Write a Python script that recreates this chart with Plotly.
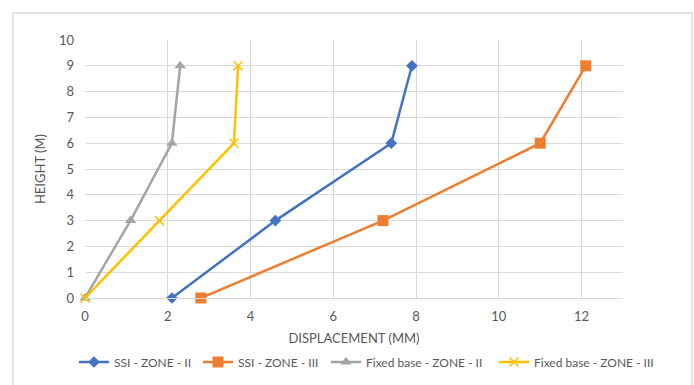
import plotly.graph_objects as go

# Storey heights (m) and lateral displacements (mm) for each case
heights = [0, 3, 6, 9]
ssi_zone2 = [2.1, 4.6, 7.4, 7.9]
ssi_zone3 = [2.8, 7.2, 11.0, 12.1]
fixed_zone2 = [0.0, 1.1, 2.1, 2.3]
fixed_zone3 = [0.0, 1.8, 3.6, 3.7]

series_names = ["SSI - ZONE - II", "SSI - ZONE - III",
                "Fixed base - ZONE - II", "Fixed base - ZONE - III"]
x_ticks = [0, 2, 4, 6, 8, 10, 12]
y_ticks = list(range(0, 11))

W, H = 694, 385
L, R, T, B = 85, 71, 40, 87

fig = go.Figure()

styles = [
    (ssi_zone2, "#4472C4", dict(symbol="diamond", size=9)),
    (ssi_zone3, "#ED7D31", dict(symbol="square", size=11)),
    (fixed_zone2, "#A5A5A5", dict(symbol="triangle-up", size=10)),
    (fixed_zone3, "#FFC000", dict(symbol="x-thin", size=9,
                                  line=dict(color="#FFC000", width=1.5))),
]
font_family = "Lato, 'Liberation Sans', sans-serif"
grey_text = "#595959"

# one single-entry legend per series so the row sits on one line
legend_text_x = [115, 239, 367, 535]
legend_ids = ["legend", "legend2", "legend3", "legend4"]
legend_layouts = {}
for name, (xs, col, mk), lid, tx in zip(series_names, styles, legend_ids, legend_text_x):
    fig.add_trace(go.Scatter(
        x=xs, y=heights, name=name, mode="lines+markers",
        line=dict(color=col, width=2.5),
        marker=dict(color=col, **mk),
        cliponaxis=False, legend=lid,
    ))
    legend_layouts[lid] = dict(
        orientation="h", xref="container", yref="container",
        x=(tx - 41) / W, xanchor="left",
        y=1 - 362 / H, yanchor="middle",
        font=dict(size=12, color=grey_text),
        itemwidth=30, bgcolor="rgba(0,0,0,0)",
    )

fig.update_layout(
    width=W, height=H,
    margin=dict(l=L, r=R, t=T, b=B, autoexpand=False),
    paper_bgcolor="white", plot_bgcolor="white",
    font=dict(family=font_family, size=13, color=grey_text),
    showlegend=True,
    **legend_layouts,
)
fig.update_xaxes(
    range=[0, 13], tickvals=x_ticks, showgrid=True, gridcolor="#D9D9D9",
    gridwidth=1, zeroline=False, showline=True, linecolor="#D9D9D9",
    ticks="", ticklabelstandoff=6, tickfont=dict(size=13, color=grey_text),
    automargin=True,
    title=dict(text="DISPLACEMENT (MM)", font=dict(size=13, color=grey_text),
               standoff=11),
)
fig.update_yaxes(
    range=[0, 10], tickvals=y_ticks, showgrid=True, gridcolor="#D9D9D9",
    gridwidth=1, zeroline=False, showline=False, automargin=True,
    ticks="", ticklabelstandoff=10, tickfont=dict(size=13, color=grey_text),
    title=dict(text="HEIGHT (M)", font=dict(size=13, color=grey_text),
               standoff=10),
)

# Chart frame
pw, ph = W - L - R, H - T - B
fig.add_shape(type="rect", xref="paper", yref="paper",
              x0=(13 - L) / pw, x1=(692 - L) / pw,
              y0=(H - B - 420) / ph, y1=(H - B - 13) / ph,
              line=dict(color="#D9D9D9", width=1.3), layer="below")

fig.write_html("out.html")
